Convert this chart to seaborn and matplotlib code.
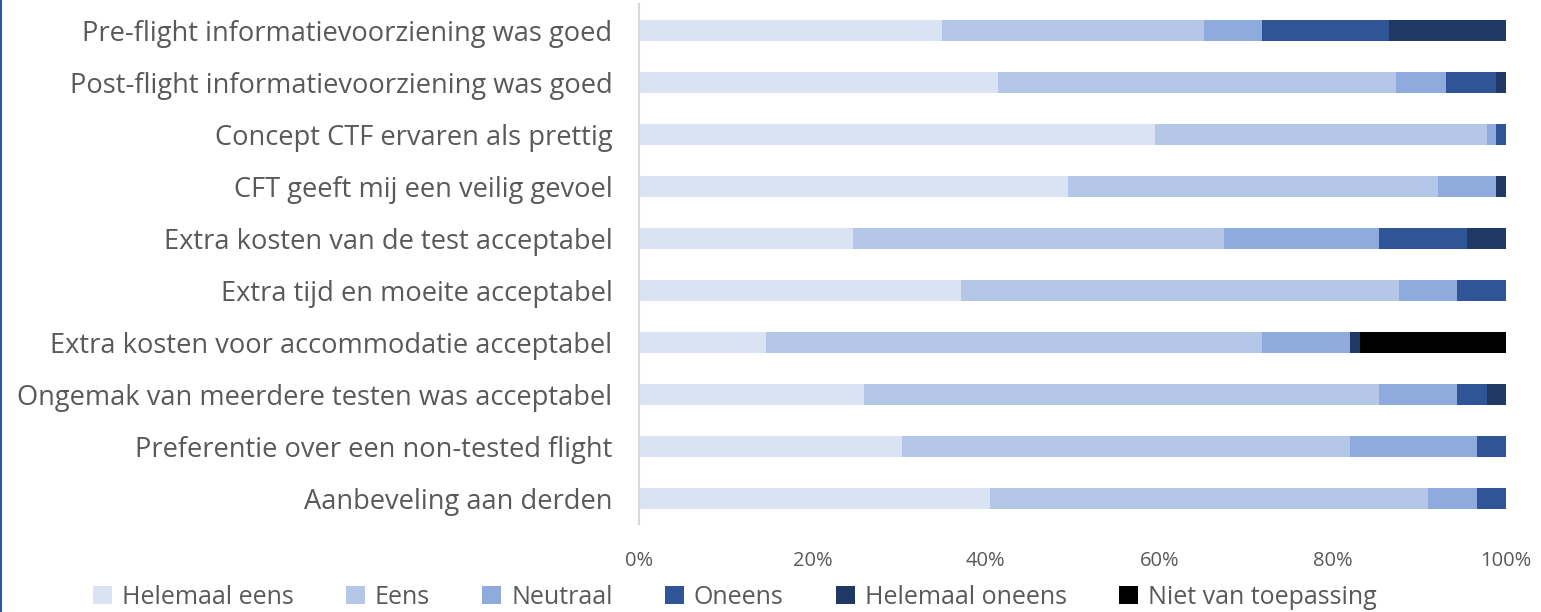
import matplotlib
matplotlib.use("Agg")
import matplotlib.pyplot as plt
import seaborn as sns
import numpy as np
import pandas as pd
from matplotlib.patches import Patch
from matplotlib.lines import Line2D
from matplotlib.ticker import PercentFormatter

statements = [
    "Pre-flight informatievoorziening was goed",
    "Post-flight informatievoorziening was goed",
    "Concept CTF ervaren als prettig",
    "CFT geeft mij een veilig gevoel",
    "Extra kosten van de test acceptabel",
    "Extra tijd en moeite acceptabel",
    "Extra kosten voor accommodatie acceptabel",
    "Ongemak van meerdere testen was acceptabel",
    "Preferentie over een non-tested flight",
    "Aanbeveling aan derden",
]

answers = ["Helemaal eens", "Eens", "Neutraal", "Oneens", "Helemaal oneens", "Niet van toepassing"]
colors = ["#DAE3F3", "#B4C7E7", "#8FAADC", "#2F5597", "#203864", "#000000"]

helemaal_eens = [34.9, 41.4, 59.5, 49.5, 24.7, 37.1, 14.6, 25.9, 30.3, 40.5]
eens = [30.3, 45.9, 38.3, 42.7, 42.8, 50.6, 57.3, 59.5, 51.7, 50.5]
neutraal = [6.7, 5.8, 1.0, 6.6, 17.9, 6.7, 10.1, 9.0, 14.6, 5.6]
oneens = [14.6, 5.7, 1.2, 0.0, 10.1, 5.6, 0.0, 3.4, 3.4, 3.4]
helemaal_oneens = [13.5, 1.2, 0.0, 1.2, 4.5, 0.0, 1.2, 2.2, 0.0, 0.0]
niet_van_toepassing = [0.0, 0.0, 0.0, 0.0, 0.0, 0.0, 16.8, 0.0, 0.0, 0.0]

df = pd.DataFrame({
    "Stelling": statements,
    "Helemaal eens": helemaal_eens,
    "Eens": eens,
    "Neutraal": neutraal,
    "Oneens": oneens,
    "Helemaal oneens": helemaal_oneens,
    "Niet van toepassing": niet_van_toepassing,
})

# normalise to 100% and build cumulative sums for stacking
vals = df[answers].to_numpy()
vals = vals / vals.sum(axis=1, keepdims=True) * 100
cum = np.cumsum(vals, axis=1)

sns.set_style("white")
plt.rcParams["font.family"] = ["Open Sans", "DejaVu Sans"]

fig = plt.figure(figsize=(15.41, 6.12), dpi=100)
ax = fig.add_axes([639 / 1541, 1 - 524.5 / 612, 867 / 1541, 520 / 612])

# draw from the widest cumulative bar down so each segment shows
for i in reversed(range(len(answers))):
    sns.barplot(x=cum[:, i], y=df["Stelling"], color=colors[i], orient="h",
                width=0.4, saturation=1, ax=ax, linewidth=0)

ax.set_xlim(0, 100)
ax.set_ylim(9.5, -0.5)
ax.xaxis.set_major_locator(plt.MultipleLocator(20))
ax.xaxis.set_major_formatter(PercentFormatter(decimals=0))
ax.set_xlabel("")
ax.set_ylabel("")
for s in ["top", "right", "bottom"]:
    ax.spines[s].set_visible(False)
ax.spines["left"].set_color("#D9D9D9")
ax.spines["left"].set_linewidth(1.5)
ax.tick_params(axis="x", length=0, pad=19, labelsize=14.5, labelcolor="#595959")
ax.tick_params(axis="y", length=0, pad=19, labelsize=19.6, labelcolor="#595959")

handles = [Patch(facecolor=c, edgecolor="none", label=a) for a, c in zip(answers, colors)]
fig.legend(handles=handles, loc="center", bbox_to_anchor=(0.477, 1 - 597 / 612), ncol=6,
           frameon=False, fontsize=18, labelcolor="#595959", handlelength=0.75, handleheight=0.75,
           handletextpad=0.4, columnspacing=2.1)

# thin blue border on the left edge
fig.add_artist(Line2D([0.0008, 0.0008], [0, 1], color="#2F55A0", linewidth=1.5,
                      transform=fig.transFigure))

plt.savefig("out.png", dpi=100)
